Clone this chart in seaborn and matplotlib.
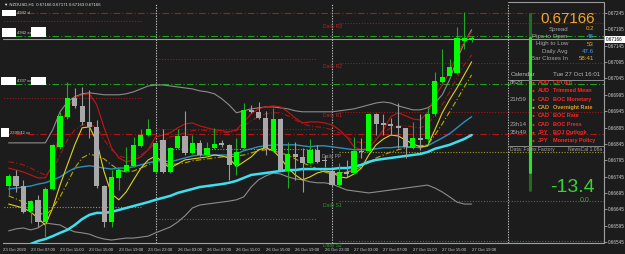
import matplotlib
matplotlib.use("Agg")
import matplotlib.pyplot as plt
import seaborn as sns
import pandas as pd
from matplotlib.patches import Rectangle
from matplotlib.lines import Line2D

# ---------------- data ----------------
bars = list(range(64))
opens = [0.66717,0.66747,0.66717,0.66640,0.66674,0.66606,0.66708,0.66836,0.66928,0.66984,
         0.66962,0.66913,0.66898,0.66717,0.66606,0.66741,0.66763,0.66778,0.66839,0.66873,
         0.66760,0.66858,0.66760,0.66833,0.66870,0.66818,0.66849,0.66812,0.66833,0.66846,
         0.66843,0.66781,0.66833,0.66950,0.66941,0.66925,0.66824,0.66922,0.66763,0.66815,
         0.66806,0.66787,0.66827,0.66796,0.66763,0.66720,0.66760,0.66757,0.66824,0.66824,
         0.66935,0.66910,0.66907,0.66901,0.66892,0.66833,0.66864,0.66861,0.66935,0.67033,
         0.67051,0.67063,0.67158,0.67165]
closes = [0.66747,0.66717,0.66637,0.66671,0.66606,0.66708,0.66843,0.66931,0.66984,0.66962,
          0.66913,0.66898,0.66717,0.66606,0.66744,0.66766,0.66781,0.66843,0.66873,0.66889,
          0.66849,0.66760,0.66833,0.66870,0.66818,0.66849,0.66812,0.66833,0.66846,0.66843,
          0.66781,0.66821,0.66950,0.66941,0.66925,0.66833,0.66922,0.66766,0.66815,0.66806,
          0.66787,0.66827,0.66790,0.66793,0.66720,0.66760,0.66754,0.66824,0.66821,0.66935,
          0.66907,0.66904,0.66901,0.66895,0.66836,0.66864,0.66858,0.66935,0.67036,0.67048,
          0.67079,0.67168,0.67168,0.67166]
highs = [0.66754,0.66766,0.66735,0.66674,0.66689,0.66714,0.66846,0.66941,0.67033,0.67017,
         0.67020,0.67011,0.66919,0.66720,0.66766,0.66770,0.66836,0.66867,0.66889,0.66922,
         0.66852,0.66889,0.66836,0.66889,0.66944,0.66873,0.66858,0.66852,0.66895,0.66858,
         0.66846,0.66864,0.66971,0.66965,0.66974,0.66944,0.66956,0.66925,0.66852,0.66852,
         0.66833,0.66861,0.66843,0.66812,0.66766,0.66787,0.66796,0.66867,0.66864,0.66938,
         0.66938,0.66935,0.66925,0.66971,0.66895,0.66913,0.66935,0.66956,0.67066,0.67134,
         0.67103,0.67201,0.67247,0.67174]
lows = [0.66689,0.66698,0.66634,0.66603,0.66591,0.66560,0.66705,0.66830,0.66922,0.66956,
        0.66904,0.66864,0.66711,0.66591,0.66591,0.66705,0.66760,0.66775,0.66836,0.66870,
        0.66757,0.66757,0.66757,0.66830,0.66812,0.66815,0.66809,0.66809,0.66830,0.66836,
        0.66735,0.66751,0.66830,0.66938,0.66922,0.66812,0.66821,0.66763,0.66711,0.66735,
        0.66698,0.66784,0.66787,0.66775,0.66717,0.66717,0.66745,0.66754,0.66803,0.66821,
        0.66873,0.66873,0.66873,0.66833,0.66803,0.66830,0.66827,0.66849,0.66931,0.67030,
        0.67048,0.67060,0.67134,0.67155]

bb_up = [0.66848,0.66848,0.66848,0.66848,0.66848,0.66848,0.66888,0.66943,0.66973,0.66989,
         0.66998,0.67001,0.66998,0.66995,0.66995,0.66995,0.66998,0.67004,0.67013,0.67022,
         0.67025,0.67025,0.67022,0.67019,0.67016,0.67013,0.67007,0.67004,0.66998,0.66983,
         0.66964,0.66940,0.66946,0.66952,0.66955,0.66958,0.66958,0.66955,0.66952,0.66946,
         0.66943,0.66943,0.66943,0.66943,0.66943,0.66946,0.66949,0.66952,0.66958,0.66964,
         0.66970,0.66973,0.66970,0.66961,0.66955,0.66949,0.66949,0.66955,0.66970,0.66995,
         0.67041,0.67102,0.67154,0.67194]
bb_lo = [0.66579,0.66585,0.66588,0.66582,0.66588,0.66603,0.66600,0.66597,0.66585,0.66576,
         0.66573,0.66569,0.66560,0.66554,0.66551,0.66554,0.66557,0.66557,0.66560,0.66563,
         0.66573,0.66582,0.66591,0.66606,0.66625,0.66649,0.66658,0.66661,0.66664,0.66667,
         0.66670,0.66674,0.66683,0.66713,0.66735,0.66747,0.66756,0.66753,0.66744,0.66738,
         0.66735,0.66729,0.66726,0.66726,0.66722,0.66713,0.66704,0.66701,0.66698,0.66695,
         0.66698,0.66701,0.66704,0.66707,0.66710,0.66713,0.66716,0.66719,0.66710,0.66698,
         0.66683,0.66667,0.66661,0.66661]
ma_fast = [0.66661,0.66655,0.66649,0.66637,0.66618,0.66597,0.66649,0.66719,0.66781,0.66842,
           0.66894,0.66897,0.66851,0.66759,0.66692,0.66674,0.66698,0.66735,0.66771,0.66796,
           0.66808,0.66787,0.66771,0.66784,0.66796,0.66799,0.66802,0.66805,0.66811,0.66808,
           0.66802,0.66775,0.66790,0.66805,0.66827,0.66833,0.66824,0.66802,0.66771,0.66750,
           0.66735,0.66744,0.66756,0.66762,0.66759,0.66744,0.66741,0.66753,0.66771,0.66811,
           0.66842,0.66860,0.66872,0.66869,0.66857,0.66845,0.66836,0.66839,0.66888,0.66940,
           0.66980,0.67016,0.67056,0.67096]
ma_mid = [0.66686,0.66677,0.66667,0.66658,0.66637,0.66625,0.66649,0.66683,0.66726,0.66771,
          0.66802,0.66814,0.66808,0.66799,0.66781,0.66765,0.66759,0.66762,0.66771,0.66781,
          0.66790,0.66787,0.66781,0.66784,0.66787,0.66793,0.66796,0.66799,0.66802,0.66805,
          0.66805,0.66808,0.66811,0.66817,0.66824,0.66827,0.66824,0.66817,0.66811,0.66799,
          0.66787,0.66778,0.66768,0.66759,0.66753,0.66756,0.66759,0.66765,0.66775,0.66787,
          0.66802,0.66811,0.66820,0.66827,0.66833,0.66836,0.66839,0.66842,0.66872,0.66906,
          0.66943,0.66980,0.67019,0.67056]
ma_blue = [0.66707,0.66710,0.66713,0.66716,0.66722,0.66726,0.66735,0.66744,0.66759,0.66771,
           0.66775,0.66778,0.66775,0.66771,0.66768,0.66771,0.66771,0.66775,0.66781,0.66787,
           0.66793,0.66793,0.66790,0.66796,0.66802,0.66808,0.66811,0.66811,0.66811,0.66811,
           0.66811,0.66814,0.66824,0.66830,0.66836,0.66839,0.66842,0.66842,0.66842,0.66842,
           0.66839,0.66836,0.66839,0.66839,0.66836,0.66833,0.66830,0.66827,0.66827,0.66827,
           0.66830,0.66833,0.66833,0.66836,0.66836,0.66836,0.66833,0.66839,0.66851,0.66863,
           0.66876,0.66894,0.66912,0.66928]
ma_slow = [0.66514,0.66521,0.66530,0.66539,0.66548,0.66554,0.66563,0.66573,0.66582,0.66597,
           0.66615,0.66628,0.66634,0.66634,0.66637,0.66643,0.66649,0.66655,0.66661,0.66667,
           0.66674,0.66680,0.66686,0.66695,0.66701,0.66707,0.66713,0.66716,0.66719,0.66722,
           0.66726,0.66732,0.66741,0.66750,0.66753,0.66756,0.66759,0.66762,0.66765,0.66765,
           0.66768,0.66768,0.66768,0.66768,0.66768,0.66771,0.66771,0.66775,0.66781,0.66790,
           0.66796,0.66799,0.66802,0.66805,0.66808,0.66811,0.66814,0.66820,0.66830,0.66836,
           0.66842,0.66851,0.66860,0.66872]
env_up = [0.66771,0.66765,0.66759,0.66750,0.66741,0.66741,0.66781,0.66888,0.66955,0.66986,
          0.66995,0.66998,0.66964,0.66894,0.66833,0.66802,0.66790,0.66796,0.66805,0.66827,
          0.66866,0.66872,0.66879,0.66894,0.66906,0.66909,0.66900,0.66894,0.66888,0.66885,
          0.66882,0.66888,0.66912,0.66937,0.66952,0.66958,0.66961,0.66958,0.66943,0.66924,
          0.66909,0.66912,0.66912,0.66909,0.66903,0.66888,0.66866,0.66836,0.66827,0.66833,
          0.66857,0.66888,0.66928,0.66940,0.66931,0.66921,0.66918,0.66940,0.66989,0.67025,
          0.67065,0.67117,0.67157,0.67188]
env_mid = [0.66790,0.66787,0.66781,0.66771,0.66759,0.66750,0.66765,0.66811,0.66857,0.66888,
           0.66903,0.66906,0.66894,0.66857,0.66827,0.66808,0.66802,0.66805,0.66811,0.66827,
           0.66848,0.66857,0.66866,0.66872,0.66879,0.66885,0.66888,0.66885,0.66882,0.66879,
           0.66879,0.66885,0.66900,0.66915,0.66928,0.66937,0.66940,0.66940,0.66931,0.66918,
           0.66906,0.66900,0.66897,0.66894,0.66888,0.66879,0.66866,0.66854,0.66848,0.66851,
           0.66863,0.66879,0.66894,0.66900,0.66900,0.66897,0.66894,0.66903,0.66934,0.66964,
           0.67004,0.67047,0.67087,0.67117]

# time axis labels (bar index of label)
tick_bars = [3, 7, 11, 15, 19, 23, 27, 31, 35, 39, 43, 47, 51, 55, 59, 63]
tick_labels = ["23 Oct 07:00", "23 Oct 11:00", "23 Oct 15:00", "23 Oct 19:00", "23 Oct 23:00",
               "26 Oct 03:00", "26 Oct 07:00", "26 Oct 11:00", "26 Oct 15:00", "26 Oct 19:00",
               "26 Oct 23:00", "27 Oct 03:00", "27 Oct 07:00", "27 Oct 11:00", "27 Oct 15:00",
               "27 Oct 19:00"]
first_label = "23 Oct 2020"
price_ticks = [0.67245, 0.67195, 0.67145, 0.67095, 0.67045, 0.66995, 0.66945, 0.66895,
               0.66845, 0.66795, 0.66745, 0.66695, 0.66645, 0.66595, 0.66545]
last_price = 0.67166
day_starts = [20, 44, 68]

# horizontal levels
full_levels = [0.67245, 0.67175, 0.67028, 0.66876]
full_colors = ["#b31414", "#1f9e1f", "#1f9e1f", "#b31414"]
# pivot segments: (price, start bar, end bar, kind)
pivot_prices = [0.67221, 0.66986, 0.66652,
                0.67105, 0.66891, 0.66830, 0.66615,
                0.67215, 0.67093, 0.66943, 0.66820, 0.66670, 0.66548]
pivot_start = [-1, -1, -1, 20, 20, 20, 20, 45, 45, 45, 45, 45, 45]
pivot_end = [18, 18, 18, 42, 42, 42, 42, 81, 81, 81, 81, 81, 81]
pivot_kind = ["r", "r", "p", "r", "r", "p", "s", "r", "r", "r", "p", "s", "s"]
pivot_names = ["Daily R3", "Daily R2", "Daily R1", "Daily PP", "Daily S1", "Daily S2"]
pivot_label_prices = [0.67215, 0.67093, 0.66943, 0.66820, 0.66670, 0.66548]

info_labels = ["Spread", "Pips to Open", "High to Low", "Daily Avg", "Bar Closes In"]
info_values = ["0.2", "48", "53", "47.6", "58:41"]
cal_times = ["8h29", "", "21h59", "", "", "23h14", "35h49", ""]
cal_ccy = ["AUD", "AUD", "CAD", "CAD", "CAD", "CAD", "JPY", "JPY"]
cal_events = ["CPI q/q", "Trimmed Mean", "BOC Monetary", "Overnight Rate", "BOC Rate",
              "BOC Press", "BOJ Outlook", "Monetary Policy"]

# ---------------- styling ----------------
BG = "#1c1c1c"
sns.set_style("dark", {"axes.facecolor": BG, "figure.facecolor": BG})
plt.rcParams["font.family"] = ["Liberation Sans", "DejaVu Sans"]

W, H = 625, 254
fig = plt.figure(figsize=(W / 100, H / 100), dpi=100)
fig.patch.set_facecolor(BG)
L, R, T, B = 3, 604, 3, 243
ax = fig.add_axes([L / W, (H - B) / H, (R - L) / W, (B - T) / H])
ax.set_facecolor(BG)

X0, DX = 8.6, 7.35
ax.set_xlim((L - X0) / DX, (R - X0) / DX)
PPX = 0.0005 / 16.357
ax.set_ylim(0.66545 - (B - 242) * PPX, 0.66545 + (242 - T) * PPX)

df = pd.DataFrame({"bar": bars, "open": opens, "close": closes, "high": highs, "low": lows,
                   "bb_up": bb_up, "bb_lo": bb_lo, "ma_fast": ma_fast, "ma_mid": ma_mid,
                   "ma_blue": ma_blue, "ma_slow": ma_slow, "env_up": env_up, "env_mid": env_mid})

# full-width levels
for p, c in zip(full_levels, full_colors):
    ax.axhline(p, color=c, lw=0.8, ls=(0, (6, 2, 1, 2)), zorder=1)
ax.axhline(last_price, color="#9a9a9a", lw=0.8, zorder=1)

# pivot segments
pc = {"r": "#a01818", "p": "#a09a20", "s": "#1f8a1f"}
for p, s, e, k in zip(pivot_prices, pivot_start, pivot_end, pivot_kind):
    ax.hlines(p, s, e, colors=pc[k], lw=0.8, linestyles=(0, (1, 1.5)), zorder=1)
lab_col = {"R": "#c02020", "P": "#909090", "S": "#2a9a2a"}
for name, p in zip(pivot_names, pivot_label_prices):
    ax.text(44, p - 4 * PPX, name, color=lab_col[name[6]], fontsize=3.6,
            ha="center", va="center", zorder=3)

# day separators
for d in day_starts:
    ax.axvline(d, color="#bdbdbd", lw=0.8, ls=(0, (1.2, 1.2)), zorder=1)

# indicator lines
line_specs = [("bb_up", "#8c8c8c", 0.8, "-"), ("bb_lo", "#8c8c8c", 0.8, "-"),
              ("env_up", "#c81414", 0.8, "-"), ("env_mid", "#b01212", 0.8, (0, (5, 2, 1, 2))),
              ("ma_mid", "#b8a800", 0.8, (0, (5, 2, 1, 2))), ("ma_blue", "#2d8fbf", 1.0, "-"),
              ("ma_fast", "#e0d21e", 0.8, "-"), ("ma_slow", "#3ee0f0", 1.8, "-")]
for col, c, lw, ls in line_specs:
    sns.lineplot(data=df, x="bar", y=col, ax=ax, color=c, lw=lw, linestyle=ls,
                 legend=False, zorder=2)

# candles
up = df["close"] >= df["open"]
body_col = ["#00ff00" if u else "#a8a8a8" for u in up]
wick_col = ["#22a822" if u else "#9a9a9a" for u in up]
ax.vlines(df["bar"], df["low"], df["high"], colors=wick_col, lw=0.8, zorder=4)
bottoms = df[["open", "close"]].min(axis=1)
heights = (df["open"] - df["close"]).abs().clip(lower=PPX * 1.2)
ax.bar(df["bar"], heights, bottom=bottoms, width=0.7, color=body_col, lw=0, zorder=5)

# axes cosmetics
ax.set_xlabel("")
ax.set_ylabel("")
for s in ["top", "left"]:
    ax.spines[s].set_visible(False)
for s in ["right", "bottom"]:
    ax.spines[s].set_color("#a0a0a0")
    ax.spines[s].set_linewidth(0.8)
ax.yaxis.tick_right()
ax.set_yticks(price_ticks)
ax.set_yticklabels([f"{v:.5f}" for v in price_ticks], fontsize=3.3, color="#cfcfcf")
ax.set_xticks([ax.get_xlim()[0]] + tick_bars)
ax.set_xticklabels([first_label] + tick_labels, fontsize=3.1, color="#cfcfcf", ha="left")
ax.tick_params(axis="both", length=2, width=0.6, color="#a0a0a0", pad=1.0)
ax.tick_params(axis="x", pad=1.5)
ax.grid(False)


def fx(x):
    return x / W


def fy(y):
    return 1 - y / H


# last-price tag on price scale
fig.patches.append(Rectangle((fx(605), fy(43)), 19.5 / W, 7 / H, transform=fig.transFigure,
                             facecolor="white", edgecolor="none", zorder=10))
fig.text(fx(606), fy(39.5), f"{last_price:.5f}", fontsize=3.3, color="black",
         va="center", ha="left", zorder=11)

# title
fig.text(fx(4), fy(5), "\u25bc NZDUSD,H1  0.67166 0.67171 0.67163 0.67166", fontsize=3.1,
         color="#e8e8e8", va="center", ha="left")

# left object labels
boxes = [(2, 10, 14, 6), (2, 28, 14, 9), (31, 27, 15, 10), (1, 77, 15, 8), (31, 77, 15, 8),
         (1, 128, 8, 9)]
for bx, by, bw, bh in boxes:
    fig.patches.append(Rectangle((fx(bx), fy(by + bh)), bw / W, bh / H,
                                 transform=fig.transFigure, facecolor="white",
                                 edgecolor="none", zorder=10))
for tx, ty, tt in [(17, 13, "4942 xl"), (17, 33, "4942 xx"), (17, 81, "4337 xx"),
                   (10, 133, "2390/42 xx")]:
    fig.text(fx(tx), fy(ty), tt, fontsize=3.0, color="#d0d0d0", va="center", ha="left",
             zorder=11)

# info panel
fig.add_artist(Line2D([fx(508), fx(604)], [fy(2), fy(2)], color="#9a9a9a", lw=0.8))
fig.text(fx(595), fy(19), f"{last_price:.5f}", fontsize=10.8, color="#f2a431", ha="right",
         va="center")
val_cols = ["#f2a431", "#3d9cff", "#f2a431", "#3d9cff", "#f2a431"]
for i, (lab, val) in enumerate(zip(info_labels, info_values)):
    yy = 29 + i * 7.5
    fig.text(fx(568), fy(yy), lab, fontsize=4.4, color="#a8a8a8", ha="right", va="center")
    fig.text(fx(594), fy(yy), val, fontsize=4.4, color=val_cols[i], ha="right", va="center")

# vertical momentum bar
fig.add_artist(Line2D([fx(530), fx(530)], [fy(14), fy(190)], color="#1d6e1d", lw=2.2))
fig.add_artist(Line2D([fx(530), fx(530)], [fy(38), fy(172)], color="#27e427", lw=2.2))

fig.text(fx(511), fy(74.5), "Calendar", fontsize=4.4, color="#b8b8b8", ha="left", va="center")
fig.text(fx(600), fy(74.5), "Tue 27 Oct 16:01", fontsize=4.4, color="#b8b8b8", ha="right",
         va="center")
fig.add_artist(Line2D([fx(509), fx(604)], [fy(79.5), fy(79.5)], color="#8a8a8a", lw=0.7))
for i in range(len(cal_events)):
    yy = 82.5 + i * 8.3
    col = "#e89b22" if cal_events[i] == "Overnight Rate" else "#ff2424"
    if cal_times[i]:
        fig.text(fx(510), fy(yy), cal_times[i], fontsize=4.4, color="#a8a8a8", ha="left",
                 va="center")
    fig.text(fx(533.5), fy(yy), "\u25cf", fontsize=3.5, color=col, ha="center", va="center")
    fig.text(fx(538), fy(yy), cal_ccy[i], fontsize=4.0, color=col, ha="left", va="center",
             fontweight="bold")
    fig.text(fx(553), fy(yy), cal_events[i], fontsize=4.0, color=col, ha="left", va="center",
             fontweight="bold")
fig.add_artist(Line2D([fx(509), fx(604)], [fy(145.5), fy(145.5)], color="#8a8a8a", lw=0.7))
fig.text(fx(510), fy(149.5), "Data: Forex Factory", fontsize=3.6, color="#a0a0a0", ha="left",
         va="center")
fig.text(fx(602), fy(149.5), "NewsCal 1.08a", fontsize=3.6, color="#a0a0a0", ha="right",
         va="center")

fig.text(fx(595), fy(188), "-13.4", fontsize=14, color="#3ad13a", ha="right", va="center")
fig.text(fx(590), fy(201), "0.0", fontsize=5.0, color="#3aa83a", ha="right", va="center")

fig.savefig("out.png", dpi=100, facecolor=BG)
